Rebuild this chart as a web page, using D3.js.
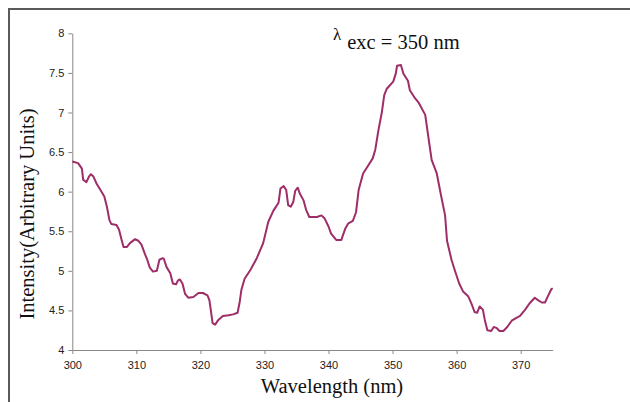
<!DOCTYPE html>
<html><head><meta charset="utf-8">
<script src="https://cdn.jsdelivr.net/npm/d3@7"></script>
<style>body{margin:0;background:#fff}svg{display:block}</style>
</head><body>
<script>
const wavelength = [300.0,300.9,301.5,301.7,302.2,302.6,302.9,303.3,303.8,304.4,305.0,305.4,305.8,306.1,306.9,307.3,307.7,308.0,308.5,309.0,309.8,310.3,310.8,311.3,311.7,312.1,312.6,313.2,313.6,314.1,314.3,314.7,315.3,315.7,316.2,316.5,316.8,317.2,317.6,318.1,318.9,319.7,320.4,321.1,321.4,321.7,321.9,322.3,322.8,323.5,324.4,325.1,325.8,326.1,326.4,326.9,327.8,328.8,329.8,330.6,331.4,332.2,332.5,333.0,333.4,333.7,334.1,334.5,334.8,335.2,335.5,336.1,336.5,337.0,338.2,338.9,339.4,340.0,340.4,341.2,342.0,342.6,343.1,343.8,344.3,344.7,345.4,346.2,346.9,347.3,347.8,348.3,348.7,349.1,350.1,350.5,350.7,351.3,351.7,352.4,352.7,353.5,354.1,355.1,355.5,356.1,356.9,357.5,358.2,358.5,359.2,359.7,360.4,361.0,361.8,362.3,362.8,363.2,363.6,364.1,364.4,364.8,365.4,365.8,366.2,366.7,367.3,367.9,368.6,369.4,369.9,370.7,371.4,372.2,372.7,373.3,373.8,374.2,374.8,375.0];
const intensity = [6.38,6.36,6.29,6.15,6.12,6.19,6.22,6.19,6.10,6.02,5.94,5.81,5.64,5.59,5.58,5.52,5.39,5.30,5.30,5.35,5.40,5.38,5.33,5.22,5.14,5.04,4.99,5.00,5.14,5.16,5.15,5.05,4.97,4.84,4.83,4.88,4.89,4.84,4.71,4.66,4.67,4.72,4.72,4.69,4.63,4.46,4.34,4.32,4.38,4.43,4.44,4.45,4.47,4.59,4.76,4.90,5.01,5.16,5.35,5.62,5.76,5.86,6.04,6.07,6.02,5.83,5.81,5.87,6.01,6.05,5.98,5.89,5.77,5.68,5.68,5.70,5.66,5.56,5.47,5.39,5.39,5.53,5.60,5.63,5.74,6.02,6.23,6.33,6.42,6.53,6.78,6.99,7.22,7.30,7.39,7.49,7.59,7.60,7.49,7.40,7.28,7.18,7.12,6.97,6.74,6.40,6.23,5.98,5.70,5.38,5.14,5.01,4.84,4.74,4.68,4.59,4.48,4.47,4.55,4.51,4.38,4.25,4.24,4.29,4.28,4.24,4.24,4.29,4.37,4.41,4.43,4.51,4.59,4.66,4.63,4.60,4.60,4.67,4.77,4.78];
const xTicks = [300,310,320,330,340,350,360,370];
const yTicks = [4,4.5,5,5.5,6,6.5,7,7.5,8];

const W = 630, H = 402;
const svg = d3.select("body").append("svg").attr("width", W).attr("height", H);

// outer frame
svg.append("path").attr("d", "M9,402V9H630").attr("fill","none").attr("stroke","#5a5a5a").attr("stroke-width",2);

const x = d3.scaleLinear().domain([300,375]).range([72.3,552.7]);
const y = d3.scaleLinear().domain([4,8]).range([350,33.3]);

const xAxis = svg.append("g").attr("transform","translate(0,350)")
  .call(d3.axisBottom(x).tickValues(xTicks).tickSize(4).tickSizeOuter(0).tickFormat(d3.format("d")));
const yAxis = svg.append("g").attr("transform","translate(72.3,0)")
  .call(d3.axisLeft(y).tickValues(yTicks).tickSize(4).tickSizeOuter(0).tickFormat(d => String(d)));
[xAxis, yAxis].forEach(g => {
  g.select(".domain").attr("stroke","#888").attr("stroke-width",1);
  g.selectAll(".tick line").attr("stroke","#888");
  g.selectAll(".tick text").attr("fill","#222").style("font-family","Arial, 'Liberation Sans', sans-serif").style("font-size","11px");
});
xAxis.selectAll(".tick text").attr("dy","1.05em");
yAxis.selectAll(".tick text").attr("x",-8);

const line = d3.line().x((d,i) => x(wavelength[i])).y(d => y(d)).curve(d3.curveLinear);
svg.append("path").datum(intensity).attr("d", line)
  .attr("fill","none").attr("stroke","#9e2d68").attr("stroke-width",2).attr("stroke-linejoin","round");

const serif = "'Times New Roman', 'Liberation Serif', 'DejaVu Serif', serif";
svg.append("text").attr("x", 332).attr("y", 393).attr("text-anchor","middle")
  .style("font-family", serif).style("font-size","20.5px").attr("fill","#111").text("Wavelength (nm)");
svg.append("text").attr("transform","translate(34,214) rotate(-90)").attr("text-anchor","middle")
  .style("font-family", serif).style("font-size","20.5px").attr("fill","#111").text("Intensity(Arbitrary Units)");

const t = svg.append("text").attr("x", 333).attr("y", 49).style("font-family", serif).attr("fill","#111");
t.append("tspan").attr("dy",-9).style("font-size","17px").text("λ");
t.append("tspan").attr("dx",6).attr("dy",9).style("font-size","20.5px").text("exc = 350 nm");
</script>
</body></html>
